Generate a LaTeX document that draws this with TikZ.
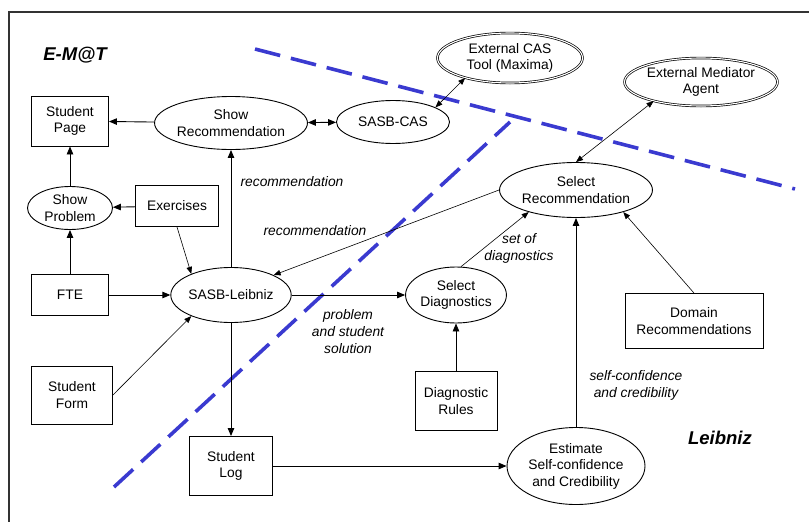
\documentclass[tikz,border=0pt]{standalone}
\usepackage{fontspec}
\setmainfont{Liberation Sans}
\usetikzlibrary{shapes.geometric,arrows.meta}
\definecolor{splitblue}{RGB}{58,58,208}
\begin{document}
\begin{tikzpicture}[x=1pt, y=-1pt, >={Triangle[length=8pt,width=6.5pt]},
  every node/.style={font=\fontsize{13.8}{16.5}\selectfont, align=center, inner sep=0pt},
  box/.style={draw, line width=0.9pt, rectangle},
  proc/.style={draw, line width=0.9pt, ellipse},
  extproc/.style={draw, ellipse, double, line width=0.7pt, double distance=1.1pt},
  flow/.style={->, line width=0.9pt},
  thinflow/.style={->, line width=0.6pt, >={Triangle[length=7pt,width=5.5pt]}},
  note/.style={font=\fontsize{13.8}{17}\selectfont\itshape},
  area/.style={font=\fontsize{18.5}{20}\selectfont\bfseries\itshape},
  split/.style={splitblue, line width=3.6pt, dash pattern=on 26pt off 11pt}]
\useasboundingbox (0,0) rectangle (809,522);
\draw[line width=1.2pt, black!80] (9,522) -- (9,12) -- (809,12);

\node[area] (emat) at (75,55) {E-M@T};
\node[area] (leibniz) at (720,438) {Leibniz};

\node[box, minimum width=77, minimum height=50] (stpage) at (70,121) {Student\\Page};
\node[proc, minimum width=131, minimum height=53] (showrec) at (231,123) {Show\\Recommendation};
\node[proc, minimum width=113, minimum height=43] (sasbcas) at (393,122) {SASB-CAS};
\node[extproc, minimum width=145, minimum height=50] (extcas) at (510,58) {External CAS\\Tool (Maxima)};
\node[extproc, minimum width=144, minimum height=48] (extmed) at (701,82) {External Mediator\\Agent};
\node[proc, minimum width=134, minimum height=55] (selrec) at (576,190) {Select\\Recommendation};
\node[proc, minimum width=85, minimum height=43] (showprob) at (70,208) {Show\\Problem};
\node[box, minimum width=83, minimum height=41] (exer) at (177,206) {Exercises};
\node[box, minimum width=77, minimum height=41] (fte) at (70,295) {FTE};
\node[proc, minimum width=114, minimum height=55] (leib) at (231,295) {SASB-Leibniz};
\node[proc, minimum width=98, minimum height=56] (seldiag) at (456,295) {Select\\Diagnostics};
\node[box, minimum width=81, minimum height=58] (stform) at (72,395) {Student\\Form};
\node[box, minimum width=82, minimum height=59] (diagrules) at (456,401) {Diagnostic\\Rules};
\node[box, minimum width=138, minimum height=55] (domrec) at (694,321) {Domain\\Recommendations};
\node[box, minimum width=83, minimum height=59] (stlog) at (231,466) {Student\\Log};
\node[proc, minimum width=138, minimum height=77] (est) at (576,466) {Estimate\\Self-confidence\\and Credibility};

\node[note] (lrec1) at (292,182) {recommendation};
\node[note] (lrec2) at (315,231) {recommendation};
\node[note] (ldiag) at (519,248) {set of\\diagnostics};
\node[note] (lsol) at (348,332) {problem\\and student\\solution};
\node[note] (lconf) at (636,385) {self-confidence\\and credibility};

\draw[split] (255,49) -- (795,189);
\draw[split] (114,487) -- (510,122);

\draw[flow] (showrec) -- (stpage);
\draw[flow, <->] (showrec) -- (sasbcas);
\draw[thinflow, <->] (sasbcas.19) -- (extcas.204);
\draw[flow] (showprob) -- (stpage);
\draw[flow] (exer) -- (showprob);
\draw[flow] (fte) -- (showprob);
\draw[thinflow] (exer.south) -- (leib.152);
\draw[flow] (leib) -- (showrec);
\draw[flow] (fte) -- (leib);
\draw[thinflow] (selrec.west) -- (leib.25);
\draw[thinflow] (stform.east) -- (leib.208);
\draw[flow] (leib) -- (seldiag);
\draw[flow] (leib) -- (stlog);
\draw[thinflow] (seldiag.80) -- (selrec.205);
\draw[flow] (diagrules) -- (seldiag);
\draw[flow] (stlog) -- (est);
\draw[flow] (est) -- (selrec);
\draw[thinflow] (domrec.north) -- (selrec.335);
\draw[thinflow, <->] (selrec.north) -- (extmed.202);
\end{tikzpicture}
\end{document}
